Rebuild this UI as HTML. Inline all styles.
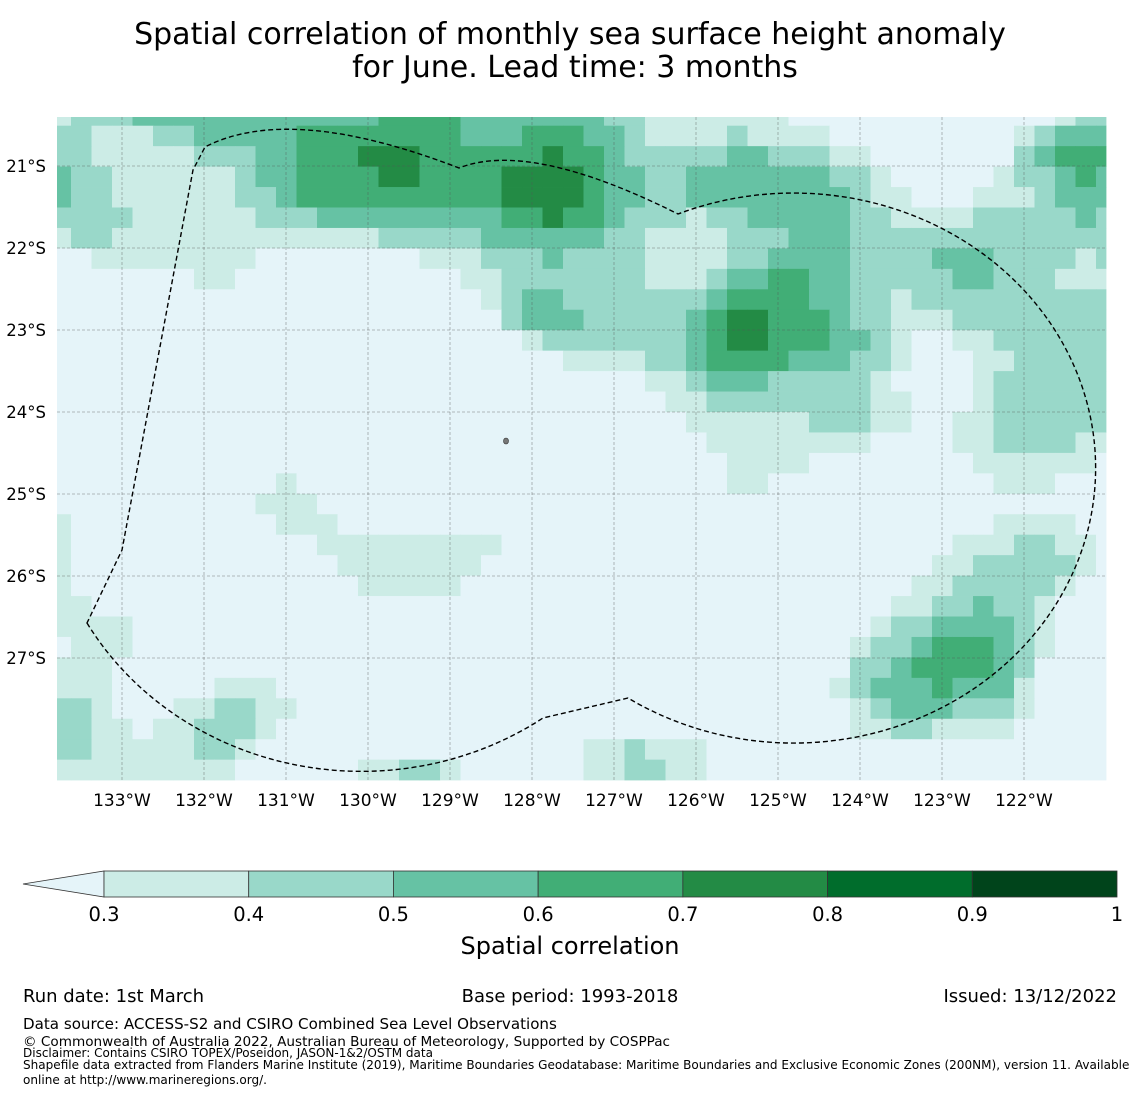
<!DOCTYPE html>
<html><head><meta charset="utf-8"><style>
body{margin:0;background:#fff;font-family:"Liberation Sans","DejaVu Sans",sans-serif;}
svg text{font-family:"DejaVu Sans","Liberation Sans",sans-serif;}
</style></head><body>
<svg id="chart" width="1140" height="1095" viewBox="0 0 1140 1095" xmlns="http://www.w3.org/2000/svg">
<text x="570" y="44" font-size="30" text-anchor="middle">Spatial correlation of monthly sea surface height anomaly</text>
<text x="575" y="77" font-size="30" text-anchor="middle">for June. Lead time: 3 months</text>
<g id="cells"></g>
<g id="grid"></g>
<path id="eez" fill="none" stroke="#000" stroke-width="1.4" stroke-dasharray="5,3" d="M87,623 A316 294 0 0 0 543,718 L628,698 A302 275 0 1 0 678,214 Q530,140 459,168 Q290,103 205,147 L193,170 L122,550 Z"></path>
<ellipse cx="506" cy="441" rx="2.5" ry="3" fill="#777" stroke="#333" stroke-width="0.6"/>
<g id="axes"></g>
<g id="cbar"></g>
<text x="570" y="954" font-size="24" text-anchor="middle">Spatial correlation</text>
<text x="23" y="1002" font-size="18">Run date: 1st March</text>
<text x="570" y="1002" font-size="18" text-anchor="middle">Base period: 1993-2018</text>
<text x="1117" y="1002" font-size="18" text-anchor="end">Issued: 13/12/2022</text>
<text x="23" y="1029" font-size="15.1">Data source: ACCESS-S2 and CSIRO Combined Sea Level Observations</text>
<text x="23" y="1046" font-size="13.6">© Commonwealth of Australia 2022, Australian Bureau of Meteorology, Supported by COSPPac</text>
<text x="23" y="1057" font-size="12">Disclaimer: Contains CSIRO TOPEX/Poseidon, JASON-1&amp;2/OSTM data</text>
<text x="23" y="1069" font-size="12.05">Shapefile data extracted from Flanders Marine Institute (2019), Maritime Boundaries Geodatabase: Maritime Boundaries and Exclusive Economic Zones (200NM), version 11. Available</text>
<text x="23" y="1084" font-size="12.05">online at http://www.marineregions.org/.</text>
</svg>
<script>
// category index per cell: 0 (<0.3), 1 (0.3-0.4), 2 (0.4-0.5), 3 (0.5-0.6), 4 (0.6-0.7), 5 (0.7-0.8)
const rows = [
"1222333333333333444433333332211111110000000000000122",
"2211122333334444444433344433211112111100000000012333",
"2211111222334445554444445443222223322211000000023444",
"3221111112334444554444555543322333333322100000122343",
"3221111112234444444444555543322333333332110001112333",
"2222111111222333333333445443222122333332211112222232",
"1221111111111111222223333332211112223332222222222222",
"0011111111000000001112223222211112233332222333222212",
"0000000110000000000011222222211123344332222233222111",
"0000000000000000000001233222222234444332212222222222",
"0000000000000000000000233322222345544432211122222222",
"0000000000000000000000012222222345544433210011222222",
"0000000000000000000000000111122344443332210001122222",
"0000000000000000000000000000011233322222100001222222",
"0000000000000000000000000000001122222222110001222222",
"0000000000000000000000000000000111111222110011222222",
"0000000000000000000000000000000011111111000011222211",
"0000000000000000000000000000000001111000000001111110",
"0000000000010000000000000000000001100000000000111000",
"0000000000111000000000000000000000000000000000000000",
"1000000000011100000000000000000000000000000000111100",
"1000000000000111111111000000000000000000000011122110",
"1000000000000011111110000000000000000000000112222210",
"1000000000000001111100000000000000000000001122222100",
"1100000000000000000000000000000000000000011223221000",
"1111000000000000000000000000000000000000122333321000",
"0111000000000000000000000000000000000001223444321000",
"1110000000000000000000000000000000000002234444320000",
"1110000011100000000000000000000000000012333433310000",
"2210001122110000000000000000000000000001233322210000",
"2211011222100000000000000000000000000001122111100000",
"2211111221000000000000000011211100000000000000000000",
"1111111110000001122100000011221100000000000000000000"
];
const levelColors = ["#e5f4f9","#ccece6","#99d8c9","#66c2a4","#41ae76","#238b45","#006d2c","#00441b"];
const lonTicks = ["133°W","132°W","131°W","130°W","129°W","128°W","127°W","126°W","125°W","124°W","123°W","122°W"];
const latTicks = ["21°S","22°S","23°S","24°S","25°S","26°S","27°S"];
const cbarBounds = ["0.3","0.4","0.5","0.6","0.7","0.8","0.9","1"];

const NS="http://www.w3.org/2000/svg";
function mk(t,a){const e=document.createElementNS(NS,t);for(const k in a)e.setAttribute(k,a[k]);return e;}
const mapL=57,mapR=1106,mapT=117,mapB=780;
function colX(c){return c===0?mapL:71+20.5*(c-1);}
function colX2(c){return c===51?mapR:71+20.5*c;}
function rowY(r){return r===0?mapT:125.7+20.45*(r-1);}
function rowY2(r){return 125.7+20.45*r;}
function lonX(i){return 122+82*i;}
function latY(i){return 166+82*i;}

const cg=document.getElementById('cells');
rows.forEach((s,r)=>{
  for(let c=0;c<s.length;c++){
    const v=+s[c];
    const x=colX(c),y=rowY(r);
    const rc=mk('rect',{x:x,y:y,width:colX2(c)-x+0.4,height:Math.min(rowY2(r),mapB)-y+0.4,fill:levelColors[v]});
    
    
    cg.appendChild(rc);
  }
});
const gg=document.getElementById('grid');
lonTicks.forEach((t,i)=>{
  const l=mk('line',{x1:lonX(i),x2:lonX(i),y1:mapT,y2:mapB,stroke:"#555",'stroke-opacity':0.5,'stroke-width':0.8,'stroke-dasharray':"3,2"});
  
  
  gg.appendChild(l);
});
latTicks.forEach((t,i)=>{
  const l=mk('line',{x1:mapL,x2:mapR,y1:latY(i),y2:latY(i),stroke:"#555",'stroke-opacity':0.5,'stroke-width':0.8,'stroke-dasharray':"3,2"});
  
  
  gg.appendChild(l);
});
const ag=document.getElementById('axes');
lonTicks.forEach((t,i)=>{
  const e=mk('text',{x:lonX(i),y:806,'font-size':17,'text-anchor':'middle'});e.textContent=t;
  
  
  ag.appendChild(e);
});
latTicks.forEach((t,i)=>{
  const e=mk('text',{x:46,y:latY(i)+6,'font-size':16.5,'text-anchor':'end'});e.textContent=t;
  
  
  ag.appendChild(e);
});
const cb=document.getElementById('cbar');
const cbL=104,cbR=1117,cbT=871,cbB=897,seg=(cbR-cbL)/7;
const tri=mk('polygon',{points:`23,884 ${cbL},${cbT} ${cbL},${cbB}`,fill:levelColors[0],stroke:"#333",'stroke-width':0.8});


cb.appendChild(tri);
for(let k=0;k<7;k++){
  const r=mk('rect',{x:cbL+seg*k,y:cbT,width:seg,height:cbB-cbT,fill:levelColors[k+1],stroke:"#333",'stroke-width':0.8});
  
  
  cb.appendChild(r);
}
cbarBounds.forEach((t,k)=>{
  const e=mk('text',{x:cbL+seg*k,y:921,'font-size':19.5,'text-anchor':'middle'});e.textContent=t;
  
  
  cb.appendChild(e);
});
</script>
</body></html>
